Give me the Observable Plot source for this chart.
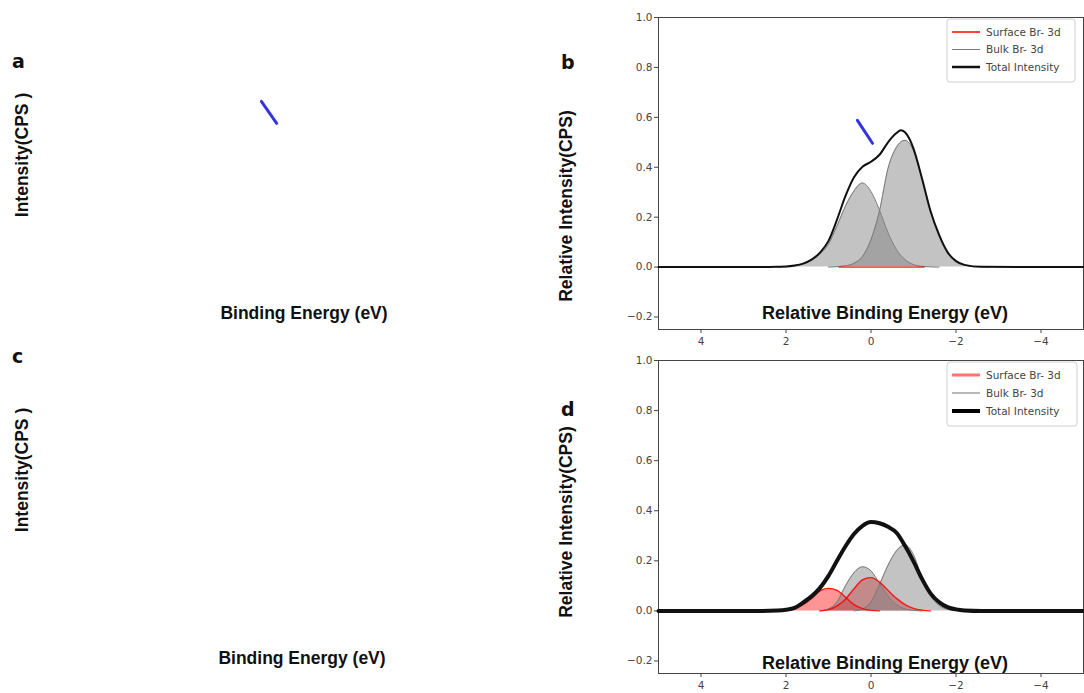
<!DOCTYPE html>
<html><head><meta charset="utf-8">
<script src="https://cdn.jsdelivr.net/npm/d3@7"></script>
<script src="https://cdn.jsdelivr.net/npm/@observablehq/plot@0.6"></script>
<style>
html,body{margin:0;padding:0;background:#fff;}
#fig{position:relative;width:1084px;height:693px;overflow:hidden;background:#fff;}
#fig > svg{position:absolute;}
</style></head><body><div id="fig"></div>
<script>
// ---------- data (relative binding energy eV, relative intensity) ----------
const xTicks = [4, 2, 0, -2, -4];
const yTicks = [-0.2, 0, 0.2, 0.4, 0.6, 0.8, 1.0];
const legendLabels = ["Surface Br- 3d", "Bulk Br- 3d", "Total Intensity"];

// panel b
const bTotal = [[5,0],[2.6,0],[2.2,0.001],[2.0,0.002],[1.8,0.006],[1.6,0.014],[1.4,0.03],[1.2,0.058],[1.0,0.105],[0.8,0.19],[0.6,0.285],[0.4,0.36],[0.2,0.402],[0.0,0.422],[-0.2,0.45],[-0.4,0.5],[-0.6,0.537],[-0.7,0.548],[-0.8,0.54],[-1.0,0.475],[-1.2,0.355],[-1.4,0.225],[-1.6,0.13],[-1.8,0.06],[-2.0,0.024],[-2.2,0.009],[-2.6,0.001],[-5,0]];
const bBulk1 = [[2.2,0],[1.8,0.004],[1.6,0.012],[1.4,0.027],[1.2,0.052],[1.0,0.092],[0.8,0.165],[0.6,0.245],[0.4,0.305],[0.2,0.337],[0.0,0.303],[-0.2,0.228],[-0.4,0.138],[-0.6,0.07],[-0.8,0.03],[-1.0,0.01],[-1.2,0.003],[-1.6,0]];
const bBulk2 = [[1.0,0],[0.6,0.005],[0.4,0.015],[0.2,0.042],[0.0,0.11],[-0.2,0.225],[-0.4,0.395],[-0.6,0.48],[-0.8,0.508],[-1.0,0.465],[-1.2,0.355],[-1.4,0.225],[-1.6,0.13],[-1.8,0.06],[-2.0,0.024],[-2.2,0.008],[-2.4,0.002],[-2.8,0]];
const bSurface = [[0.75,0],[0.4,0],[0.0,0],[-0.4,0],[-0.8,0],[-1.25,0]];
const bMarker = [[0.32,0.588],[-0.035,0.496]];

// panel d
const dTotal = [[5,0],[2.6,0],[2.2,0.002],[2.0,0.005],[1.8,0.012],[1.6,0.033],[1.4,0.058],[1.2,0.092],[1.0,0.14],[0.8,0.2],[0.6,0.258],[0.4,0.307],[0.2,0.34],[0.0,0.355],[-0.2,0.35],[-0.4,0.336],[-0.6,0.312],[-0.8,0.26],[-1.0,0.198],[-1.2,0.128],[-1.4,0.07],[-1.6,0.035],[-1.8,0.015],[-2.0,0.006],[-2.2,0.002],[-2.6,0],[-5,0]];
const dBulk1 = [[1.2,0],[1.0,0.008],[0.8,0.035],[0.6,0.1],[0.4,0.152],[0.2,0.176],[0.0,0.16],[-0.2,0.11],[-0.4,0.06],[-0.6,0.025],[-0.8,0.008],[-1.0,0.002],[-1.2,0]];
const dBulk2 = [[0.4,0],[0.2,0.008],[0.0,0.035],[-0.2,0.105],[-0.4,0.182],[-0.6,0.24],[-0.8,0.263],[-1.0,0.225],[-1.2,0.13],[-1.4,0.06],[-1.6,0.022],[-1.8,0.006],[-2.0,0.001],[-2.2,0]];
const dSurface1 = [[2.2,0],[2.0,0.003],[1.8,0.01],[1.6,0.025],[1.4,0.05],[1.2,0.08],[1.0,0.09],[0.8,0.082],[0.6,0.055],[0.4,0.025],[0.2,0.009],[0.0,0.002],[-0.2,0]];
const dSurface2 = [[1.2,0],[1.0,0.005],[0.8,0.02],[0.6,0.047],[0.4,0.088],[0.2,0.124],[0.0,0.133],[-0.2,0.115],[-0.4,0.082],[-0.6,0.05],[-0.8,0.025],[-1.0,0.01],[-1.2,0.003],[-1.4,0]];

// panel a
const aMarker = [[1.45,0.664],[1.09,0.576]];

// ---------- drawing ----------
const rows = a => a.map(([x, y]) => ({x, y}));
const fig = document.getElementById("fig");
const FONT = "DejaVu Sans";
const BOLD = "'Liberation Sans', Arial, sans-serif";

function place(el, left, top) {
  el.style.left = left + "px"; el.style.top = top + "px";
  fig.appendChild(el);
}

function spectrum({height, marginTop, marginBottom, bulk, surface, total, marker, totalWidth, surfFill}) {
  const marks = [
    Plot.frame({stroke: "#444", strokeWidth: 1}),
    Plot.axisY({ticks: yTicks, tickSize: 4, tickPadding: 2, tickFormat: d3.format(".1f"), label: null}),
    Plot.axisX({ticks: xTicks, tickSize: 4, tickPadding: 4, tickFormat: d3.format("d"), label: null})
  ];
  for (const s of surface) {
    marks.push(Plot.areaY(rows(s), {x: "x", y: "y", fill: "red", fillOpacity: surfFill, curve: "monotone-x"}));
  }
  for (const s of bulk) {
    marks.push(Plot.areaY(rows(s), {x: "x", y: "y", fill: "gray", fillOpacity: 0.47, curve: "monotone-x"}));
    marks.push(Plot.line(rows(s), {x: "x", y: "y", stroke: "#7a7a7a", strokeWidth: 1, curve: "monotone-x"}));
  }
  for (const s of surface) {
    marks.push(Plot.line(rows(s), {x: "x", y: "y", stroke: "red", strokeWidth: 1.4, strokeOpacity: 0.85, curve: "monotone-x"}));
  }
  marks.push(Plot.line(rows(total), {x: "x", y: "y", stroke: "#111", strokeWidth: totalWidth, curve: "monotone-x"}));
  if (marker) marks.push(Plot.line(rows(marker), {x: "x", y: "y", stroke: "#3535dc", strokeWidth: 3}));
  return Plot.plot({
    width: 544, height,
    marginLeft: 118, marginRight: 1, marginTop, marginBottom,
    x: {domain: [5, -5]},
    y: {domain: [-0.25, 1]},
    style: {fontFamily: FONT, fontSize: "10.5px", color: "#444", background: "transparent", overflow: "visible"},
    marks
  });
}

// panel a (only the marker is visible)
const plotA = Plot.plot({
  width: 545, height: 345,
  marginLeft: 110, marginRight: 10, marginTop: 17, marginBottom: 16,
  x: {domain: [5, -5], axis: null},
  y: {domain: [-0.25, 1], axis: null},
  style: {background: "transparent", overflow: "visible"},
  marks: [Plot.line(rows(aMarker), {x: "x", y: "y", stroke: "#3535dc", strokeWidth: 3})]
});
place(plotA, 0, 0);

const plotB = spectrum({height: 350, marginTop: 17, marginBottom: 21,
  bulk: [bBulk1, bBulk2], surface: [bSurface], total: bTotal, marker: bMarker, totalWidth: 2, surfFill: 0.4});
place(plotB, 540, 0);

const plotD = spectrum({height: 343, marginTop: 10, marginBottom: 20,
  bulk: [dBulk1, dBulk2], surface: [dSurface1, dSurface2], total: dTotal, marker: null, totalWidth: 4, surfFill: 0.42});
place(plotD, 540, 350);

// ---------- overlay: titles and legends ----------
const ov = d3.select(fig).append("svg")
  .attr("width", 1084).attr("height", 693)
  .style("left", "0px").style("top", "0px").style("pointer-events", "none");

function label(text, x, y, size, rotate, anchor = "middle") {
  ov.append("text")
    .attr("transform", `translate(${x},${y})` + (rotate ? " rotate(-90)" : ""))
    .attr("text-anchor", anchor)
    .attr("font-family", BOLD).attr("font-weight", "bold")
    .attr("font-size", size).attr("fill", "#111")
    .text(text);
}
// panel letters
const letters = [["a", 12, 68], ["b", 561, 69], ["c", 12, 363], ["d", 561, 416]];
ov.selectAll("text.letter").data(letters)
  .join("text").attr("class", "letter")
  .attr("x", d => d[1]).attr("y", d => d[2])
  .attr("font-family", "'DejaVu Sans', sans-serif").attr("font-weight", "bold").attr("font-size", 19).attr("fill", "#111")
  .text(d => d[0]);

label("Intensity(CPS )", 28, 155, 17.5, true);
label("Intensity(CPS )", 28, 470, 17.5, true);
label("Binding Energy (eV)", 304, 319, 17.5, false);
label("Binding Energy (eV)", 302, 664, 17.5, false);
label("Relative Intensity(CPS)", 572, 206, 17.5, true);
label("Relative Intensity(CPS)", 572, 522, 17.5, true);
label("Relative Binding Energy (eV)", 885, 319, 18, false);
label("Relative Binding Energy (eV)", 885, 669, 18, false);

function legend(x, y, w, h, rowsY, styles) {
  const g = ov.append("g");
  g.append("rect").attr("x", x).attr("y", y).attr("width", w).attr("height", h)
    .attr("rx", 3).attr("fill", "white").attr("fill-opacity", 0.85).attr("stroke", "#cfcfcf");
  legendLabels.forEach((t, i) => {
    const s = styles[i];
    g.append("line").attr("x1", x + 5).attr("x2", x + 33).attr("y1", rowsY[i]).attr("y2", rowsY[i])
      .attr("stroke", s.color).attr("stroke-width", s.width).attr("stroke-opacity", s.opacity);
    g.append("text").attr("x", x + 39).attr("y", rowsY[i]).attr("dy", "0.35em")
      .attr("font-family", FONT).attr("font-size", 10.5).attr("fill", "#444").text(t);
  });
}
legend(947, 19, 128, 63, [32, 49.5, 67], [
  {color: "red", width: 1.5, opacity: 1},
  {color: "#7a7a7a", width: 1, opacity: 1},
  {color: "#111", width: 2.5, opacity: 1}
]);
legend(947, 362, 130, 64, [375, 393, 411], [
  {color: "red", width: 3, opacity: 0.55},
  {color: "gray", width: 2, opacity: 0.55},
  {color: "#000", width: 4, opacity: 1}
]);
</script></body></html>
